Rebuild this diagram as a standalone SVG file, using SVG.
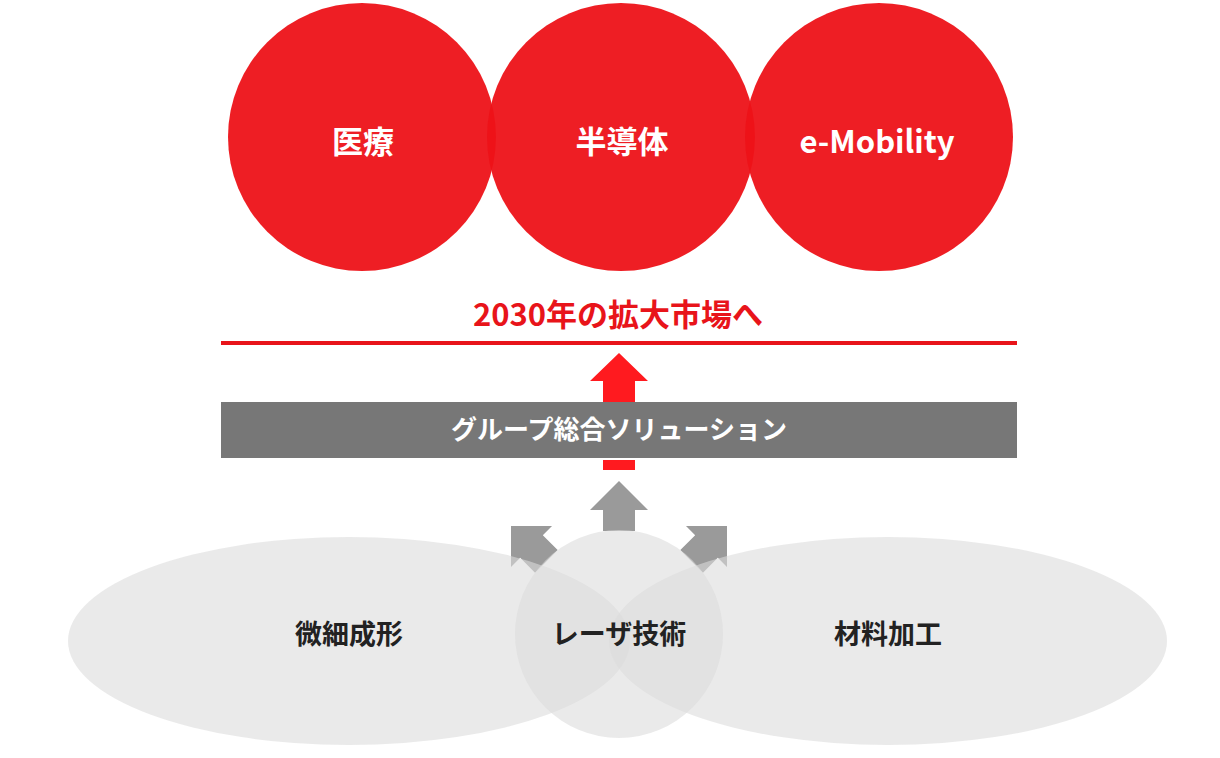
<svg xmlns="http://www.w3.org/2000/svg" width="1220" height="758" viewBox="0 0 1220 758">
<style>
.c{fill:#ed1218;opacity:0.95}
.e{fill:#dcdcdc;opacity:0.6}
.t{font-family:"Noto Sans CJK JP","Noto Sans",sans-serif;font-weight:bold;text-anchor:middle}
.w{fill:#fff;font-size:31px}
.d{fill:#222;font-size:27px}
.g{fill:#9a9a9a}
</style>
<rect width="1220" height="758" fill="#fff"/>
<g id="medical"><circle class="c" cx="362" cy="137" r="134"/><text class="t w" x="363" y="153">医療</text></g>
<g id="semiconductor"><circle class="c" cx="621" cy="137" r="134"/><text class="t w" x="622" y="153">半導体</text></g>
<g id="emobility"><circle class="c" cx="879" cy="137" r="134"/><text class="t w" x="877" y="153">e-Mobility</text></g>
<g id="market"><text class="t" x="618" y="326" fill="#e8141a" font-size="31">2030年の拡大市場へ</text><rect x="221" y="341" width="796" height="4" fill="#e8141a"/></g>
<g id="connectors">
<polygon fill="#ff1a1f" points="619,353 648,381 635,381 635,402 603,402 603,381 590,381"/>
<rect x="603" y="460" width="32" height="10" fill="#ff1a1f"/>
<polygon class="g" points="619,481 648,510 635,510 635,531 603,531 603,510 590,510"/>
<polygon class="g" transform="translate(511,526) rotate(-45)" points="0,0 29,29 16,29 16,50 -16,50 -16,29 -29,29"/>
<polygon class="g" transform="translate(727,526) rotate(45)" points="0,0 29,29 16,29 16,50 -16,50 -16,29 -29,29"/>
</g>
<g id="solution"><rect x="221" y="402" width="796" height="56" fill="#777"/><text class="t" x="619" y="439" fill="#fff" font-size="26">グループ総合ソリューション</text></g>
<g id="micro"><ellipse class="e" cx="349" cy="641" rx="281" ry="104"/><text class="t d" x="349" y="644">微細成形</text></g>
<g id="material"><ellipse class="e" cx="888" cy="641" rx="279" ry="104"/><text class="t d" x="888" y="644">材料加工</text></g>
<g id="laser"><circle class="e" cx="619" cy="634" r="104"/><text class="t d" x="619" y="644">レーザ技術</text></g>
</svg>
